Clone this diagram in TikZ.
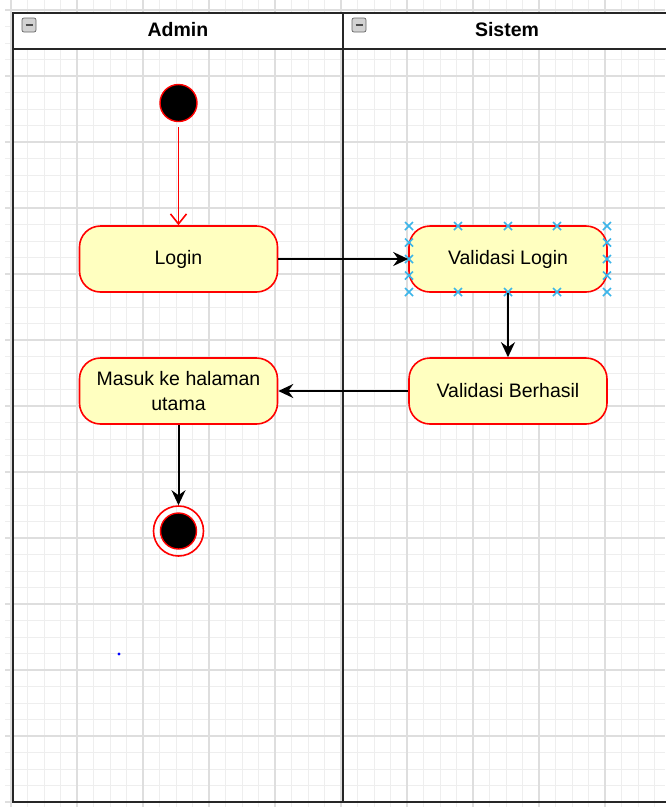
\documentclass[tikz,border=0pt]{standalone}
\usepackage{fontspec}
\setmainfont{Liberation Sans}
\usetikzlibrary{arrows.meta}
\definecolor{actfill}{HTML}{FFFFC0}
\definecolor{gridminor}{HTML}{EEEEEE}
\definecolor{gridmajor}{HTML}{DEDEDE}
\definecolor{selblue}{HTML}{3BB5EA}
\tikzset{
  actbox/.style={draw=red, line width=1.6pt, fill=actfill, rounded corners=21pt,
    minimum width=198pt, minimum height=66pt, inner sep=0pt, align=center,
    font=\fontsize{19.5}{25}\selectfont},
  flow/.style={draw=black, line width=2pt, -{Stealth[length=15pt,width=14pt,inset=5pt]}},
  redflow/.style={draw=red, line width=1.6pt, -{Straight Barb[length=10pt,width=16pt]}},
  lanehead/.style={font=\fontsize{19.5}{23}\selectfont\bfseries},
  selmark/.style={draw=selblue, line width=1.5pt},
  collapse/.style={draw=gray!80!black, fill=gray!35, rounded corners=2pt, line width=0.7pt}
}
\begin{document}
\begin{tikzpicture}[x=1pt,y=-1pt]
\useasboundingbox (0,0) rectangle (665,807);
\fill[white] (0,0) rectangle (665,807);
% grid
\foreach \k in {0,...,40} {
  \pgfmathsetmacro{\gx}{11+16.5*(\k-0)}
  \draw[gridminor, line width=0.9pt] (\gx,0) -- (\gx,807);
}
\foreach \k in {-1,...,49} {
  \pgfmathsetmacro{\gy}{10+16.5*\k}
  \draw[gridminor, line width=0.9pt] (5,\gy) -- (665,\gy);
}
\foreach \k in {0,...,10} {
  \pgfmathsetmacro{\gx}{11+66*\k}
  \draw[gridmajor, line width=1.1pt] (\gx,0) -- (\gx,807);
}
\foreach \k in {0,...,12} {
  \pgfmathsetmacro{\gy}{10+66*\k}
  \draw[gridmajor, line width=1.1pt] (5,\gy) -- (665,\gy);
}
% pool and lanes
\fill[white] (13,13) rectangle (671,49);
\draw[line width=2.2pt, black!85] (13,13) rectangle (671,802);
\draw[line width=2.2pt, black!85] (13,49) -- (671,49);
\draw[line width=2.2pt, black!85] (343,13) -- (343,802);
\node[lanehead] (hadmin) at (178,30) {Admin};
\node[lanehead] (hsistem) at (507,30) {Sistem};
\draw[collapse] (22,18) rectangle (36,32);
\draw[black!70, line width=1.6pt] (25.5,25) -- (32.5,25);
\draw[collapse] (352,18) rectangle (366,32);
\draw[black!70, line width=1.6pt] (355.5,25) -- (362.5,25);
% nodes
\node[circle, fill=black, draw=red, line width=1.4pt, minimum size=37pt, inner sep=0pt] (start) at (178.5,103) {};
\node[actbox] (login) at (178.5,259) {Login};
\node[actbox] (vlogin) at (508,259) {Validasi Login};
\node[actbox] (vberhasil) at (508,391) {Validasi Berhasil};
\node[actbox] (masuk) at (178.5,391) {Masuk ke halaman\\utama};
\node[circle, draw=red, line width=1.6pt, minimum size=50pt, inner sep=0pt] (final) at (178.5,531) {};
\fill[black, draw=red, line width=1.4pt] (final.center) circle (18);
% selection markers
\foreach \mx/\my in {409/226,458/226,508/226,557/226,607/226,
                     409/292,458/292,508/292,557/292,607/292,
                     409/242.5,409/259,409/275.5,607/242.5,607/259,607/275.5} {
  \draw[selmark] (\mx-4,\my-4) -- (\mx+4,\my+4) (\mx-4,\my+4) -- (\mx+4,\my-4);
}
% connectors
\draw[redflow] ([yshift=-5pt]start.south) -- (login.north);
\draw[flow] (login.east) -- (vlogin.west);
\draw[flow] (vlogin.south) -- (vberhasil.north);
\draw[flow] (vberhasil.west) -- (masuk.east);
\draw[flow] (masuk.south) -- (final.north);
% stray dot
\fill[blue] (119,654) circle (1.6);
\end{tikzpicture}
\end{document}
